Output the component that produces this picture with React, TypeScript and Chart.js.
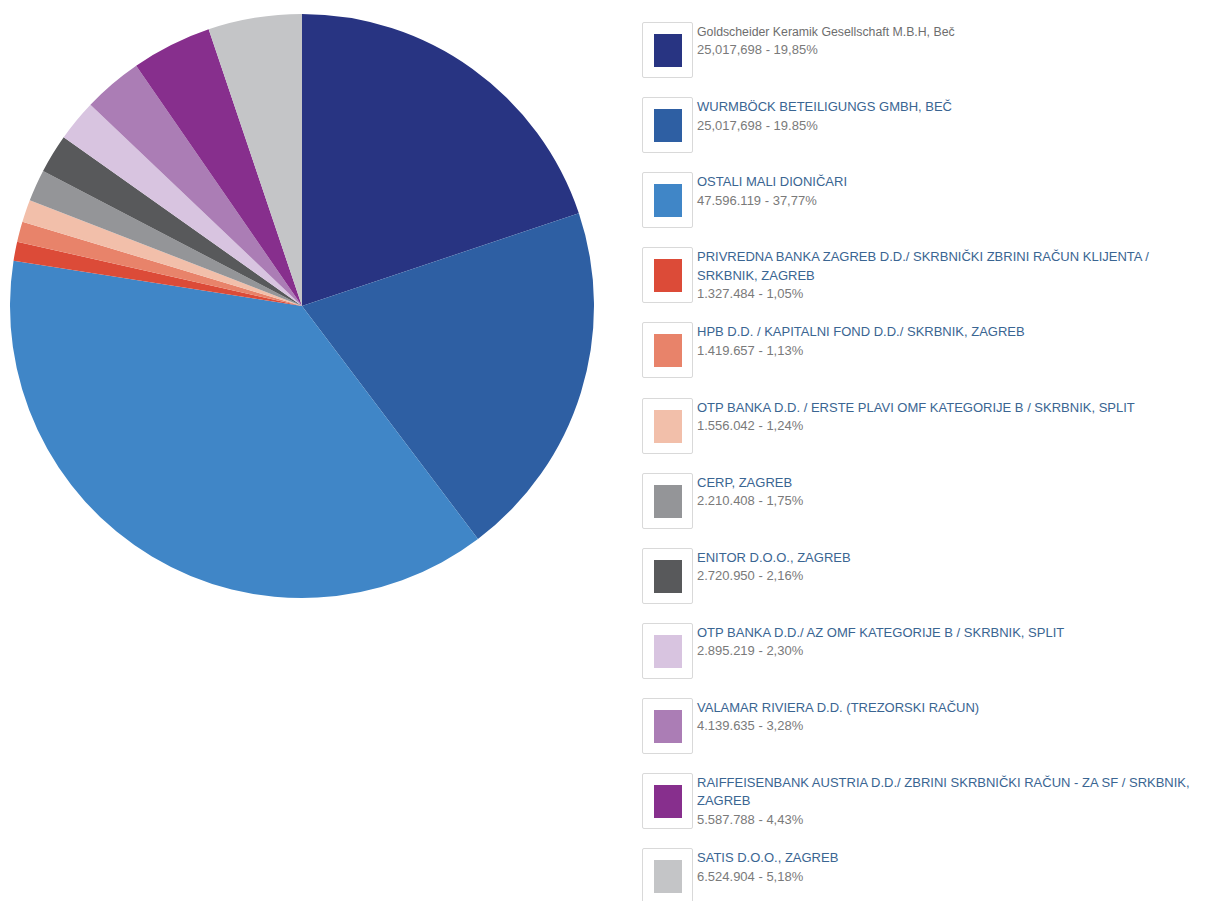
import React, { useEffect, useRef } from "react";
import { Chart, registerables } from "chart.js";

Chart.register(...registerables);

const names: string[] = [
  "Goldscheider Keramik Gesellschaft M.B.H, Beč",
  "WURMBÖCK BETEILIGUNGS GMBH, BEČ",
  "OSTALI MALI DIONIČARI",
  "PRIVREDNA BANKA ZAGREB D.D./ SKRBNIČKI ZBRINI RAČUN KLIJENTA /\nSRKBNIK, ZAGREB",
  "HPB D.D. / KAPITALNI FOND D.D./ SKRBNIK, ZAGREB",
  "OTP BANKA D.D. / ERSTE PLAVI OMF KATEGORIJE B / SKRBNIK, SPLIT",
  "CERP, ZAGREB",
  "ENITOR D.O.O., ZAGREB",
  "OTP BANKA D.D./ AZ OMF KATEGORIJE B / SKRBNIK, SPLIT",
  "VALAMAR RIVIERA D.D. (TREZORSKI RAČUN)",
  "RAIFFEISENBANK AUSTRIA D.D./ ZBRINI SKRBNIČKI RAČUN - ZA SF / SRKBNIK,\nZAGREB",
  "SATIS D.O.O., ZAGREB",
];

const shares: number[] = [
  25017698, 25017698, 47596119, 1327484, 1419657, 1556042, 2210408, 2720950,
  2895219, 4139635, 5587788, 6524904,
];

const shareLabels: string[] = [
  "25,017,698 - 19,85%",
  "25,017,698 - 19.85%",
  "47.596.119 - 37,77%",
  "1.327.484 - 1,05%",
  "1.419.657 - 1,13%",
  "1.556.042 - 1,24%",
  "2.210.408 - 1,75%",
  "2.720.950 - 2,16%",
  "2.895.219 - 2,30%",
  "4.139.635 - 3,28%",
  "5.587.788 - 4,43%",
  "6.524.904 - 5,18%",
];

const colors: string[] = [
  "#283482",
  "#2e5fa3",
  "#4086c7",
  "#dc4b38",
  "#e8836a",
  "#f2bfaa",
  "#949598",
  "#58595b",
  "#d8c4e0",
  "#ab7db5",
  "#872f8d",
  "#c4c5c7",
];

export default function App() {
  const ref = useRef<HTMLCanvasElement | null>(null);

  useEffect(() => {
    if (!ref.current) return;
    const chart = new Chart(ref.current, {
      type: "pie",
      data: {
        labels: names,
        datasets: [
          {
            data: shares,
            backgroundColor: colors,
            borderWidth: 0,
            hoverOffset: 0,
          },
        ],
      },
      options: {
        responsive: false,
        animation: false,
        radius: 292,
        layout: { padding: 0 },
        plugins: {
          legend: { display: false },
          tooltip: { enabled: false },
        },
      },
    });
    return () => chart.destroy();
  }, []);

  return (
    <div
      style={{
        position: "fixed",
        left: 0,
        top: 0,
        width: 1211,
        height: 901,
        overflow: "hidden",
        background: "#ffffff",
        fontFamily: "'Liberation Sans', Arial, Helvetica, sans-serif",
      }}
    >
      <canvas
        ref={ref}
        width={600}
        height={600}
        style={{ position: "absolute", left: 2, top: 6, width: 600, height: 600 }}
      />
      {names.map((n, i) => {
        const top = 22 + i * 75.1;
        return (
          <div key={i} style={{ position: "absolute", left: 642, top }}>
            <div
              style={{
                position: "absolute",
                left: 0,
                top: 0,
                width: 49,
                height: 54,
                border: "1px solid #d9d9d9",
                borderRadius: 2,
                background: "#fff",
              }}
            >
              <div
                style={{
                  position: "absolute",
                  left: 11,
                  top: 11,
                  width: 28,
                  height: 33,
                  background: colors[i],
                }}
              />
            </div>
            <div
              style={{
                position: "absolute",
                left: 55,
                top: 1,
                whiteSpace: "pre",
                lineHeight: "18.4px",
              }}
            >
              <div
                style={{
                  fontSize: i === 0 ? 12.3 : 13,
                  color: i === 0 ? "#6e6e6e" : "#3a6592",
                }}
              >
                {n}
              </div>
              <div style={{ fontSize: 13, color: "#7a7a7a" }}>{shareLabels[i]}</div>
            </div>
          </div>
        );
      })}
    </div>
  );
}
